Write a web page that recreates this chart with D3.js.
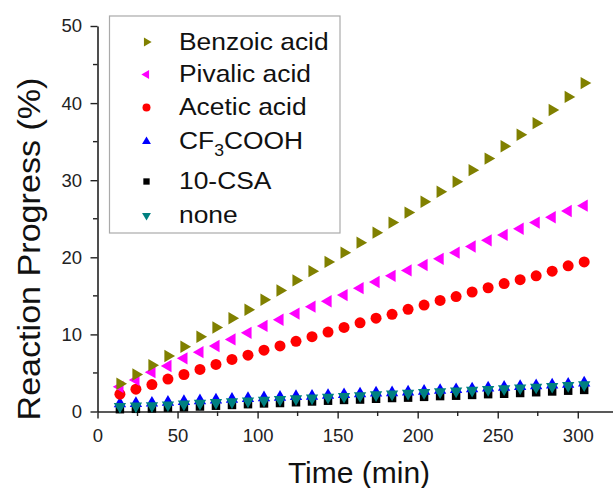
<!DOCTYPE html>
<html><head><meta charset="utf-8">
<script src="https://cdn.jsdelivr.net/npm/d3@7"></script>
<style>
html,body{margin:0;padding:0;background:#fff;}
svg{display:block;font-family:Arial,"Liberation Sans",sans-serif;}
</style></head>
<body>
<svg id="chart" width="613" height="488"></svg>
<script>
// ---- data ----
const times = [14,24,34,44,54,64,74,84,94,104,114,124,134,144,154,164,174,184,194,204,214,224,234,244,254,264,274,284,294,304];
const benzoic = [3.6,4.8,6.0,7.2,8.4,9.7,10.9,12.1,13.2,14.5,15.7,17.0,18.2,19.4,20.6,21.9,23.2,24.5,25.8,27.2,28.5,29.8,31.3,32.8,34.4,35.9,37.4,39.1,40.8,42.6];
const pivalic = [3.2,4.1,5.1,5.9,6.9,7.7,8.5,9.35,10.2,11.1,11.9,12.7,13.6,14.3,15.1,16.0,16.8,17.6,18.3,19.0,19.8,20.6,21.4,22.2,22.9,23.7,24.5,25.2,26.0,26.7];
const acetic = [2.25,2.9,3.5,4.2,4.8,5.45,6.1,6.75,7.3,7.95,8.5,9.1,9.7,10.3,10.9,11.5,12.1,12.6,13.25,13.8,14.4,14.9,15.5,16.05,16.6,17.1,17.6,18.2,18.9,19.4];
const cf3cooh = [1.0,1.05,1.1,1.2,1.3,1.4,1.5,1.6,1.7,1.8,1.85,1.95,2.0,2.1,2.2,2.3,2.4,2.45,2.55,2.65,2.75,2.85,2.95,3.05,3.15,3.25,3.35,3.45,3.55,3.7];
const csa = [0.3,0.35,0.4,0.5,0.55,0.65,0.75,0.85,0.95,1.05,1.1,1.2,1.3,1.4,1.5,1.55,1.65,1.75,1.8,1.9,2.0,2.05,2.15,2.25,2.3,2.4,2.5,2.6,2.7,2.8];
const none = [0.65,0.7,0.75,0.85,0.95,1.05,1.15,1.25,1.35,1.45,1.55,1.65,1.75,1.85,1.95,2.05,2.15,2.25,2.35,2.45,2.55,2.65,2.75,2.85,2.95,3.05,3.15,3.25,3.35,3.45];
const xTicks = [0,50,100,150,200,250,300];
const yTicks = [0,10,20,30,40,50];
const xTitle = "Time (min)";
const yTitle = "Reaction Progress (%)";

// series: drawn bottom to top
const series = [
  {name:"10-CSA", values:csa, color:"#000000", shape:"square", legendRow:4},
  {name:"CF3COOH", values:cf3cooh, color:"#0000ff", shape:"up", legendRow:3},
  {name:"none", values:none, color:"#008080", shape:"down", legendRow:5},
  {name:"Acetic acid", values:acetic, color:"#ff0000", shape:"circle", legendRow:2},
  {name:"Pivalic acid", values:pivalic, color:"#ff00ff", shape:"left", legendRow:1},
  {name:"Benzoic acid", values:benzoic, color:"#808000", shape:"right", legendRow:0}
];

const svg = d3.select("#chart");
const x = d3.scaleLinear().domain([0,322]).range([97.5,613]);
const y = d3.scaleLinear().domain([0,50]).range([411.5,26]);

function symbolFor(shape, big){
  let type, size, rot=0;
  if(shape==="circle"){ type=d3.symbolCircle; size= big?95:50; }
  else if(shape==="square"){ type=d3.symbolSquare; size= big?72:40; }
  else { type=d3.symbolTriangle; size= big?66:34;
    rot = shape==="up"?0: shape==="down"?180: shape==="right"?90:-90; }
  return {path:d3.symbol().type(type).size(size)(), rot};
}

// axes
const axisColor = "#222";
const xAxis = d3.axisBottom(x).tickValues(xTicks).tickSize(7).tickSizeOuter(0).tickPadding(10);
const gx = svg.append("g").attr("transform","translate(0,411.5)").call(xAxis);
gx.select(".domain").attr("stroke",axisColor).attr("stroke-width",1.6);
gx.selectAll(".tick line").attr("stroke",axisColor).attr("stroke-width",1.4);
gx.selectAll(".tick text").attr("font-size",18.5).attr("fill","#222").attr("font-family","Arial, 'Liberation Sans', sans-serif");
// minor x ticks
const xMinor = d3.range(25,322,50);
svg.append("g").selectAll("line").data(xMinor).join("line")
  .attr("x1",d=>x(d)).attr("x2",d=>x(d)).attr("y1",411.5).attr("y2",416)
  .attr("stroke",axisColor).attr("stroke-width",1.4);

const yAxis = d3.axisLeft(y).tickValues(yTicks).tickSize(7).tickSizeOuter(0).tickPadding(8.5);
const gy = svg.append("g").attr("transform","translate(97.5,0)").call(yAxis);
gy.select(".domain").attr("stroke",axisColor).attr("stroke-width",1.6);
gy.selectAll(".tick line").attr("stroke",axisColor).attr("stroke-width",1.4);
gy.selectAll(".tick text").attr("font-size",18.5).attr("fill","#222").attr("font-family","Arial, 'Liberation Sans', sans-serif");
const yMinor = d3.range(5,50,10);
svg.append("g").selectAll("line").data(yMinor).join("line")
  .attr("x1",97.5).attr("x2",93).attr("y1",d=>y(d)).attr("y2",d=>y(d))
  .attr("stroke",axisColor).attr("stroke-width",1.4);

// titles
svg.append("text").attr("x",359).attr("y",483).attr("text-anchor","middle")
  .attr("font-size",30).attr("fill","#111").text(xTitle);
svg.append("text").attr("transform","translate(40,249) rotate(-90) scale(1.1,1)")
  .attr("text-anchor","middle").attr("font-size",31).attr("fill","#111").text(yTitle);

// points
series.forEach(s=>{
  const sym = symbolFor(s.shape,true);
  svg.append("g").selectAll("path").data(s.values.map((v,i)=>[times[i],v])).join("path")
    .attr("d",sym.path)
    .attr("transform",d=>`translate(${x(d[0])},${y(d[1])}) rotate(${sym.rot})`)
    .attr("fill",s.color);
});

// legend
const lg = svg.append("g");
lg.append("rect").attr("x",109.5).attr("y",16).attr("width",230.5).attr("height",217)
  .attr("fill","#fff").attr("stroke","#aaa").attr("stroke-width",1.2);
const rowY = [42,74.5,107.5,141.5,181.5,215.5];
series.forEach(s=>{
  const sym = symbolFor(s.shape,false);
  const cy = rowY[s.legendRow];
  lg.append("path").attr("d",sym.path)
    .attr("transform",`translate(146.5,${cy}) rotate(${sym.rot})`).attr("fill",s.color);
  const t = lg.append("text").attr("transform",`translate(179,${cy+7.5}) scale(1.1,1)`)
    .attr("font-size",24).attr("fill","#111");
  if(s.name==="CF3COOH"){
    t.append("tspan").text("CF");
    t.append("tspan").attr("font-size",16).attr("dy",7).text("3");
    t.append("tspan").attr("dy",-7).text("COOH");
  } else t.text(s.name);
});
</script>
</body></html>
